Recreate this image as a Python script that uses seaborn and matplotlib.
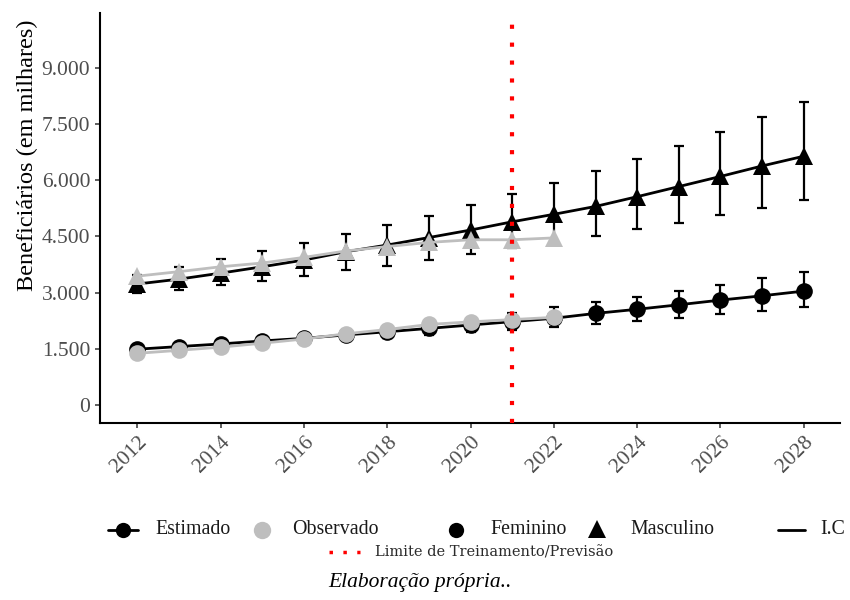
import matplotlib
matplotlib.use("Agg")
import matplotlib.pyplot as plt
import seaborn as sns
import pandas as pd
from matplotlib.lines import Line2D
from matplotlib.ticker import FuncFormatter

# ---------------- data (thousands of beneficiaries) ----------------
years_est = list(range(2012, 2029))
years_obs = list(range(2012, 2023))

fem_est = [1490, 1560, 1630, 1710, 1780, 1870, 1955, 2045, 2135, 2225, 2315,
           2445, 2555, 2675, 2800, 2915, 3040]
fem_low = [1410, 1470, 1530, 1600, 1660, 1740, 1800, 1870, 1940, 2000, 2070,
           2150, 2230, 2320, 2420, 2520, 2610]
fem_up = [1570, 1650, 1730, 1820, 1900, 2000, 2100, 2210, 2320, 2450, 2610,
          2750, 2890, 3040, 3200, 3380, 3560]

masc_est = [3230, 3360, 3520, 3690, 3870, 4090, 4270, 4470, 4670, 4890, 5090,
            5300, 5560, 5830, 6100, 6380, 6640]
masc_low = [2990, 3080, 3200, 3320, 3450, 3600, 3720, 3870, 4030, 4180, 4300,
            4510, 4690, 4870, 5060, 5260, 5470]
masc_up = [3480, 3680, 3910, 4120, 4330, 4560, 4800, 5050, 5330, 5620, 5920,
           6240, 6560, 6910, 7280, 7680, 8090]

fem_obs = [1380, 1460, 1545, 1650, 1762, 1900, 2015, 2150, 2220, 2280, 2340]
masc_obs = [3440, 3560, 3690, 3790, 3940, 4110, 4230, 4340, 4410, 4410, 4460]

limit_year = 2021
x_ticks = list(range(2012, 2029, 2))
y_ticks = [0, 1500, 3000, 4500, 6000, 7500, 9000]

legend_row1 = ["Estimado", "Observado", "Feminino", "Masculino", "I.C"]
legend_row2 = "Limite de Treinamento/Previsão"
y_label = "Beneficiários (em milhares)"
caption = "Elaboração própria.."

# ---------------- style ----------------
sns.set_theme(style="white")
plt.rcParams["font.family"] = ["Liberation Serif", "DejaVu Serif"]

GREY = "#BEBEBE"
W, H = 850, 600
fig = plt.figure(figsize=(8.5, 6), dpi=100)
ax = fig.add_axes([100 / W, 1 - 423 / H, 740 / W, (423 - 12.7) / H])

est = pd.DataFrame({"ano": years_est, "fem": fem_est, "masc": masc_est})
obs = pd.DataFrame({"ano": years_obs, "fem": fem_obs, "masc": masc_obs})

# confidence intervals (beneath the markers)
for mid, lo, up in ((fem_est, fem_low, fem_up), (masc_est, masc_low, masc_up)):
    yerr = [[m - l for m, l in zip(mid, lo)], [u - m for m, u in zip(mid, up)]]
    ax.errorbar(years_est, mid, yerr=yerr, fmt="none", ecolor="black",
                elinewidth=1.6, capsize=3.6, capthick=1.6, zorder=1.5)

# estimated series (black)
sns.lineplot(data=est, x="ano", y="fem", ax=ax, color="black", lw=2,
             marker="o", markersize=12, markeredgewidth=0, zorder=2)
sns.lineplot(data=est, x="ano", y="masc", ax=ax, color="black", lw=2,
             marker="^", markersize=13, markeredgewidth=0, zorder=2)
# observed series (grey)
sns.lineplot(data=obs, x="ano", y="fem", ax=ax, color=GREY, lw=2,
             marker="o", markersize=12, markeredgewidth=0, zorder=3)
sns.lineplot(data=obs, x="ano", y="masc", ax=ax, color=GREY, lw=2,
             marker="^", markersize=13, markeredgewidth=0, zorder=3)

# training / forecast limit
ax.axvline(limit_year, color="red", lw=3, linestyle=(0, (1, 3.3)), zorder=5)

# axes
ax.set_xlim(2011.1, 2028.87)
ax.set_ylim(-480, 10470)
ax.set_xticks(x_ticks)
ax.set_yticks(y_ticks)
ax.yaxis.set_major_formatter(FuncFormatter(lambda v, p: f"{int(v):,}".replace(",", ".")))
ax.set_xlabel("")
ax.set_ylabel(y_label, fontsize=17.5, color="black")
ax.yaxis.set_label_coords(-0.0838, 0.653)
for s in ("top", "right"):
    ax.spines[s].set_visible(False)
for s in ("left", "bottom"):
    ax.spines[s].set_color("black")
    ax.spines[s].set_linewidth(1.5)
ax.tick_params(axis="both", which="major", length=3.6, width=1.1, color="#333333",
               labelsize=15.5, labelcolor="#4D4D4D", pad=3.5, left=True, bottom=True)
for lab in ax.get_xticklabels():
    lab.set_rotation(45)
    lab.set_ha("right")
    lab.set_va("top")
    lab.set_rotation_mode("anchor")
ax.grid(False)

# ---------------- legend (figure-level) ----------------
def fx(px):
    return px / W

def fy(py):
    return 1 - py / H

r1 = 530
fig.add_artist(Line2D([fx(108), fx(138)], [fy(r1), fy(r1)], color="black", lw=2,
                      transform=fig.transFigure))
fig.add_artist(Line2D([fx(123)], [fy(r1)], color="black", marker="o", markersize=11,
                      markeredgewidth=0, transform=fig.transFigure))
fig.add_artist(Line2D([fx(262)], [fy(r1)], color=GREY, marker="o", markersize=12.5,
                      markeredgewidth=0, linestyle="none", transform=fig.transFigure))
fig.add_artist(Line2D([fx(456)], [fy(r1)], color="black", marker="o", markersize=11,
                      markeredgewidth=0, linestyle="none", transform=fig.transFigure))
fig.add_artist(Line2D([fx(597)], [fy(r1 - 1)], color="black", marker="^", markersize=13,
                      markeredgewidth=0, linestyle="none", transform=fig.transFigure))
fig.add_artist(Line2D([fx(778), fx(805)], [fy(r1), fy(r1)], color="black", lw=2,
                      transform=fig.transFigure))
tk = dict(fontsize=14.3, color="#1A1A1A", va="center", ha="left")
fig.text(fx(155), fy(r1), legend_row1[0], **tk)
fig.text(fx(292), fy(r1), legend_row1[1], **tk)
fig.text(fx(490), fy(r1), legend_row1[2], **tk)
fig.text(fx(630), fy(r1), legend_row1[3], **tk)
fig.text(fx(820), fy(r1), legend_row1[4], **tk)

r2 = 552
fig.add_artist(Line2D([fx(328.5), fx(360)], [fy(r2), fy(r2)], color="red", lw=2.5,
                      linestyle=(0, (1, 3)), transform=fig.transFigure))
fig.text(fx(375), fy(r2), legend_row2, fontsize=10.5, color="#2B2B2B",
         family=["DejaVu Serif"], va="center", ha="left")

fig.text(fx(420), fy(582), caption, fontsize=15.5, style="italic", color="black",
         ha="center", va="center")

fig.savefig("out.png", dpi=100)
